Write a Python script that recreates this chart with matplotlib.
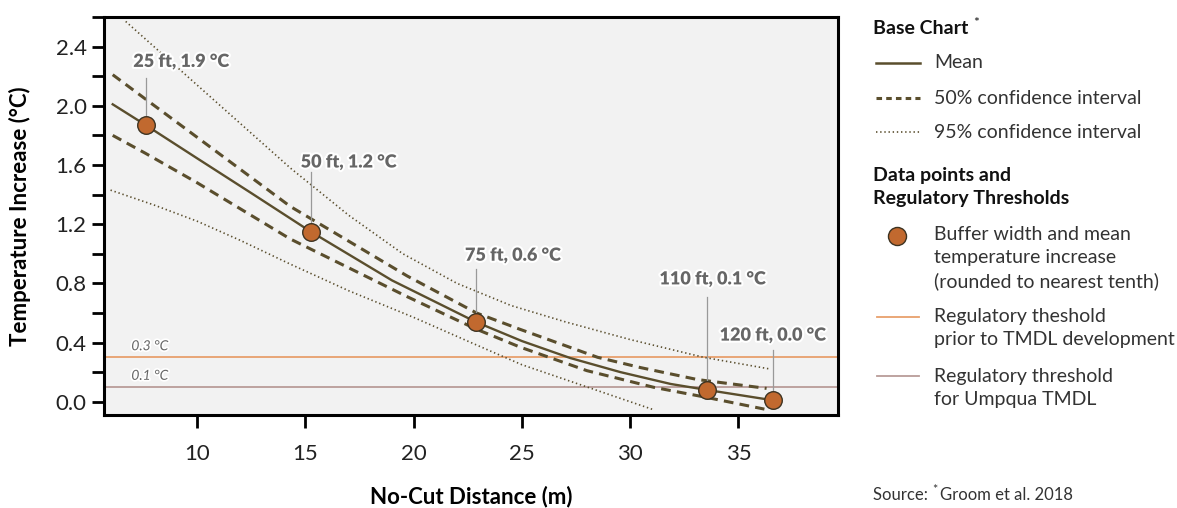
import matplotlib
matplotlib.use("Agg")
import matplotlib.pyplot as plt
import matplotlib.patheffects as pe
from matplotlib.lines import Line2D
from matplotlib.ticker import MultipleLocator

plt.rcParams['font.family'] = ['Lato', 'DejaVu Sans']
plt.rcParams['lines.scale_dashes'] = False

# --- data ---
mean_x = [6.1, 7.62, 10, 12.5, 15.24, 19.0, 22.86, 25.0, 27.24, 29.55, 31.87, 33.53, 36.58]
mean_y = [2.01, 1.87, 1.645, 1.41, 1.15, 0.82, 0.54, 0.41, 0.295, 0.20, 0.12, 0.08, 0.01]

ci50_hi_x = [6.1, 7.6, 10, 14.3, 19.7, 22.9, 24.9, 28.5, 30.5, 33.1, 36.3]
ci50_hi_y = [2.21, 2.047, 1.787, 1.32, 0.85, 0.60, 0.49, 0.30, 0.23, 0.15, 0.09]
ci50_lo_x = [6.1, 7.6, 10, 14.3, 19.7, 22.9, 24.9, 28.0, 31.1, 33.5, 36.2]
ci50_lo_y = [1.80, 1.68, 1.48, 1.10, 0.71, 0.49, 0.37, 0.21, 0.097, 0.03, -0.05]

ci95_hi_x = [6.7, 10, 14.3, 17, 19.5, 22, 24.5, 27, 30, 33.4, 36.5]
ci95_hi_y = [2.57, 2.14, 1.58, 1.26, 1.00, 0.80, 0.65, 0.54, 0.42, 0.30, 0.22]
ci95_lo_x = [6.0, 8, 10, 12, 14.3, 17, 20, 22.8, 25, 28.6, 31.1]
ci95_lo_y = [1.43, 1.33, 1.22, 1.09, 0.93, 0.75, 0.57, 0.39, 0.25, 0.07, -0.055]

point_x = [7.62, 15.24, 22.86, 33.53, 36.58]
point_y = [1.87, 1.15, 0.54, 0.08, 0.01]
point_labels = ["25 ft, 1.9 °C", "50 ft, 1.2 °C", "75 ft, 0.6 °C", "110 ft, 0.1 °C", "120 ft, 0.0 °C"]
label_x = [7.05, 14.78, 22.37, 31.35, 34.13]
label_y = [2.30, 1.62, 0.99, 0.83, 0.45]
leader_top = [2.19, 1.55, 0.90, 0.71, 0.35]

thresholds = [0.3, 0.1]
threshold_labels = ["0.3 °C", "0.1 °C"]

x_ticks = [10, 15, 20, 25, 30, 35]
y_ticks = [0.0, 0.4, 0.8, 1.2, 1.6, 2.0, 2.4]

# --- styles ---
line_col = '#5a4e2d'
dot_col = '#c1692f'
orange = '#e8a06c'
mauve = '#b99c99'
note_col = '#666666'
txt_col = '#333333'

fig = plt.figure(figsize=(11.77, 5.08), dpi=100)
ax = fig.add_axes([0.0884, 0.183, 0.6236, 0.7835])
ax.set_facecolor('#f2f2f2')

ax.axhline(thresholds[0], color=orange, lw=1.3, zorder=1)
ax.axhline(thresholds[1], color=mauve, lw=1.3, zorder=1)
for t, lab in zip(thresholds, threshold_labels):
    ax.text(6.96, t + 0.075, lab, fontsize=10, style='italic', color=note_col,
            va='center', ha='left',
            path_effects=[pe.withStroke(linewidth=2.5, foreground='white')])

ax.plot(ci95_hi_x, ci95_hi_y, color=line_col, lw=1.2, ls=(0, (1, 2.0)), zorder=2)
ax.plot(ci95_lo_x, ci95_lo_y, color=line_col, lw=1.2, ls=(0, (1, 2.0)), zorder=2)
ax.plot(ci50_hi_x, ci50_hi_y, color=line_col, lw=2.2, ls=(0, (7, 4.5)), zorder=3)
ax.plot(ci50_lo_x, ci50_lo_y, color=line_col, lw=2.2, ls=(0, (7, 4.5)), zorder=3)
ax.plot(mean_x, mean_y, color=line_col, lw=1.7, zorder=4)

for px, py, lx, ly, top, lab in zip(point_x, point_y, label_x, label_y, leader_top, point_labels):
    ax.plot([px, px], [top, py + 0.06], color='#999999', lw=0.9, zorder=4)
    ax.text(lx, ly, lab, fontsize=13, fontweight='heavy', color=note_col,
            ha='left', va='center', zorder=6,
            path_effects=[pe.withStroke(linewidth=3, foreground='white')])

ax.scatter(point_x, point_y, s=160, color=dot_col, edgecolor='#3d3322',
           linewidth=1.0, zorder=5)

ax.set_xlim(5.7, 39.6)
ax.set_ylim(-0.09, 2.6)
ax.set_xticks(x_ticks)
ax.set_yticks(y_ticks)
ax.yaxis.set_minor_locator(MultipleLocator(0.2))
ax.tick_params(axis='both', which='both', length=9, width=2, labelsize=16,
               direction='out', color='black', labelcolor='#222222')
ax.tick_params(axis='x', pad=12)
for sp in ax.spines.values():
    sp.set_linewidth(2.2)

ax.set_xlabel('No-Cut Distance (m)', fontsize=16, fontweight='bold', va='center')
ax.xaxis.set_label_coords(0.5, -0.2035)
ax.set_ylabel('Temperature Increase (°C)', fontsize=16, fontweight='bold', va='center')
ax.yaxis.set_label_coords(-0.114, 0.5)

# --- custom legend on the right ---
def fy(py):
    return 1 - py / 508

def fx(px):
    return px / 1177

fig.text(fx(873), fy(28), 'Base Chart', fontsize=14, fontweight='bold', va='center', color='#111111')
fig.text(fx(973), fy(23), '*', fontsize=10, va='center', color='#111111')

legend_rows = [
    (63, dict(color=line_col, lw=1.8), 'Mean'),
    (98, dict(color=line_col, lw=2.2, ls=(0, (4, 3))), '50% confidence interval'),
    (132, dict(color=line_col, lw=1.2, ls=(0, (1, 2))), '95% confidence interval'),
]
for py, style, lab in legend_rows:
    fig.add_artist(Line2D([fx(876), fx(920)], [fy(py), fy(py)], transform=fig.transFigure, **style))
    fig.text(fx(934), fy(py), lab, fontsize=14, va='center', color=txt_col)

fig.text(fx(873), fy(187), 'Data points and\nRegulatory Thresholds', fontsize=14,
         fontweight='bold', va='center', linespacing=1.4, color='#111111')

fig.add_artist(Line2D([fx(897)], [fy(236)], transform=fig.transFigure, marker='o',
                      markersize=13, markerfacecolor=dot_col, markeredgecolor='#3d3322',
                      markeredgewidth=1.0, ls='none'))
fig.text(fx(934), fy(258), 'Buffer width and mean\ntemperature increase\n(rounded to nearest tenth)',
         fontsize=14, va='center', color=txt_col, linespacing=1.4)

fig.add_artist(Line2D([fx(877), fx(919)], [fy(317), fy(317)], transform=fig.transFigure,
                      color=orange, lw=1.3))
fig.text(fx(934), fy(328), 'Regulatory theshold\nprior to TMDL development',
         fontsize=14, va='center', color=txt_col, linespacing=1.4)

fig.add_artist(Line2D([fx(877), fx(919)], [fy(376), fy(376)], transform=fig.transFigure,
                      color=mauve, lw=1.3))
fig.text(fx(934), fy(388), 'Regulatory threshold\nfor Umpqua TMDL',
         fontsize=14, va='center', color=txt_col, linespacing=1.4)

fig.text(fx(873), fy(495), 'Source: ', fontsize=12, va='center', color=txt_col)
fig.text(fx(932), fy(490), '*', fontsize=9, va='center', color=txt_col)
fig.text(fx(940), fy(495), 'Groom et al. 2018', fontsize=12, va='center', color=txt_col)

fig.savefig('out.png', dpi=100)
